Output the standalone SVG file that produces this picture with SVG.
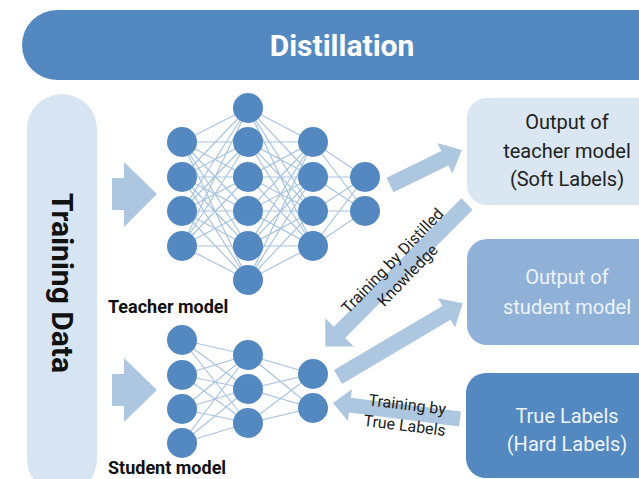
<svg xmlns="http://www.w3.org/2000/svg" width="639" height="479" viewBox="0 0 639 479">
<style>
.node{fill:#5389C0}
.wire{stroke:#5389C0;stroke-opacity:0.5;stroke-width:1.2;fill:none}
.arrow{fill:#AEC7E1}
.t{font-family:Roboto,"Liberation Sans",sans-serif}
.lbl{font-family:Roboto,"Liberation Sans",sans-serif;font-size:20px;text-anchor:middle}
.small{font-family:Roboto,"Liberation Sans",sans-serif;font-size:16px;fill:#222;text-anchor:middle}
</style>
<rect width="639" height="479" fill="#ffffff"/>
<g id="banner">
<path d="M57 10 H680 V80 H57 A35 35 0 0 1 57 10 Z" fill="#5389C0"/>
<text class="t" x="342" y="56" font-size="30" font-weight="bold" fill="#ffffff" text-anchor="middle">Distillation</text>
</g>
<g id="training-data">
<rect x="27" y="94" width="70" height="400" rx="35" fill="#D7E4F1"/>
<text class="t" transform="translate(52,283) rotate(90)" font-size="30" font-weight="bold" fill="#111" text-anchor="middle">Training Data</text>
</g>
<g id="connectors">
<polygon class="arrow" points="112,178 124,178 124,162 157,194 124,227 124,210 112,210"/>
<polygon class="arrow" points="112,374 124,374 124,358 157,390 124,422 124,406 112,406"/>
<polygon class="arrow" transform="translate(390,185) rotate(-26)" points="0,-8 61,-8 61,-17 80,0 61,17 61,8 0,8"/>
<polygon class="arrow" transform="translate(467,204) rotate(134.8)" points="0,-8 181,-8 181,-20 201,0 181,20 181,8 0,8"/>
<polygon class="arrow" transform="translate(338,377) rotate(-30.6)" points="0,-8 126,-8 126,-17 145,0 126,17 126,8 0,8"/>
<polygon class="arrow" transform="translate(460,419) rotate(187.2)" points="0,-7.5 111,-7.5 111,-16 128,0 111,16 111,7.5 0,7.5"/>
</g>
<g id="teacher-model">
<path class="wire" d="M182 142L248 108M182 142L248 142M182 142L248 177M182 142L248 211M182 142L248 246M182 142L248 280M182 177L248 108M182 177L248 142M182 177L248 177M182 177L248 211M182 177L248 246M182 177L248 280M182 211L248 108M182 211L248 142M182 211L248 177M182 211L248 211M182 211L248 246M182 211L248 280M182 246L248 108M182 246L248 142M182 246L248 177M182 246L248 211M182 246L248 246M182 246L248 280"/>
<path class="wire" d="M248 108L313 142M248 108L313 177M248 108L313 211M248 108L313 246M248 142L313 142M248 142L313 177M248 142L313 211M248 142L313 246M248 177L313 142M248 177L313 177M248 177L313 211M248 177L313 246M248 211L313 142M248 211L313 177M248 211L313 211M248 211L313 246M248 246L313 142M248 246L313 177M248 246L313 211M248 246L313 246M248 280L313 142M248 280L313 177M248 280L313 211M248 280L313 246"/>
<path class="wire" d="M313 142L365 177M313 142L365 211M313 177L365 177M313 177L365 211M313 211L365 177M313 211L365 211M313 246L365 177M313 246L365 211"/>
<circle class="node" cx="182" cy="142" r="15"/><circle class="node" cx="182" cy="177" r="15"/><circle class="node" cx="182" cy="211" r="15"/><circle class="node" cx="182" cy="246" r="15"/>
<circle class="node" cx="248" cy="108" r="15"/><circle class="node" cx="248" cy="142" r="15"/><circle class="node" cx="248" cy="177" r="15"/><circle class="node" cx="248" cy="211" r="15"/><circle class="node" cx="248" cy="246" r="15"/><circle class="node" cx="248" cy="280" r="15"/>
<circle class="node" cx="313" cy="142" r="15"/><circle class="node" cx="313" cy="177" r="15"/><circle class="node" cx="313" cy="211" r="15"/><circle class="node" cx="313" cy="246" r="15"/>
<circle class="node" cx="365" cy="177" r="15"/><circle class="node" cx="365" cy="211" r="15"/>
<text class="t" x="108" y="313" font-size="18" font-weight="bold" fill="#111">Teacher model</text>
</g>
<g id="student-model">
<path class="wire" d="M182 340L248 355M182 340L248 389M182 340L248 423M182 375L248 355M182 375L248 389M182 375L248 423M182 409L248 355M182 409L248 389M182 409L248 423M182 443L248 355M182 443L248 389M182 443L248 423M248 355L313 374M248 355L313 408M248 389L313 374M248 389L313 408M248 423L313 374M248 423L313 408"/>
<circle class="node" cx="182" cy="340" r="15"/><circle class="node" cx="182" cy="375" r="15"/><circle class="node" cx="182" cy="409" r="15"/><circle class="node" cx="182" cy="443" r="15"/>
<circle class="node" cx="248" cy="355" r="15"/><circle class="node" cx="248" cy="389" r="15"/><circle class="node" cx="248" cy="423" r="15"/>
<circle class="node" cx="313" cy="374" r="15"/><circle class="node" cx="313" cy="408" r="15"/>
<text class="t" x="108" y="474" font-size="18" font-weight="bold" fill="#111">Student model</text>
</g>
<g id="teacher-output">
<rect x="467" y="98" width="200" height="107" rx="20" fill="#DAE6F2"/>
<text class="lbl" fill="#222" x="567" y="129">Output of</text>
<text class="lbl" fill="#222" x="567" y="158">teacher model</text>
<text class="lbl" fill="#222" x="567" y="186">(Soft Labels)</text>
</g>
<g id="student-output">
<rect x="467" y="239" width="200" height="106" rx="20" fill="#90B1D7"/>
<text class="lbl" fill="#EEF3FA" x="567" y="284">Output of</text>
<text class="lbl" fill="#EEF3FA" x="567" y="314">student model</text>
</g>
<g id="true-labels">
<rect x="466" y="373" width="200" height="105" rx="20" fill="#5389C0"/>
<text class="lbl" fill="#EEF3FA" x="567" y="423">True Labels</text>
<text class="lbl" fill="#EEF3FA" x="567" y="451">(Hard Labels)</text>
</g>
<g id="edge-labels">
<g transform="translate(400,268) rotate(-46)">
<text class="small" x="0" y="-5">Training by Distilled</text>
<text class="small" x="0" y="16">Knowledge</text>
</g>
<g transform="translate(406,415) rotate(7)">
<text class="small" x="0" y="-5">Training by</text>
<text class="small" x="0" y="16">True Labels</text>
</g>
</g>
</svg>
